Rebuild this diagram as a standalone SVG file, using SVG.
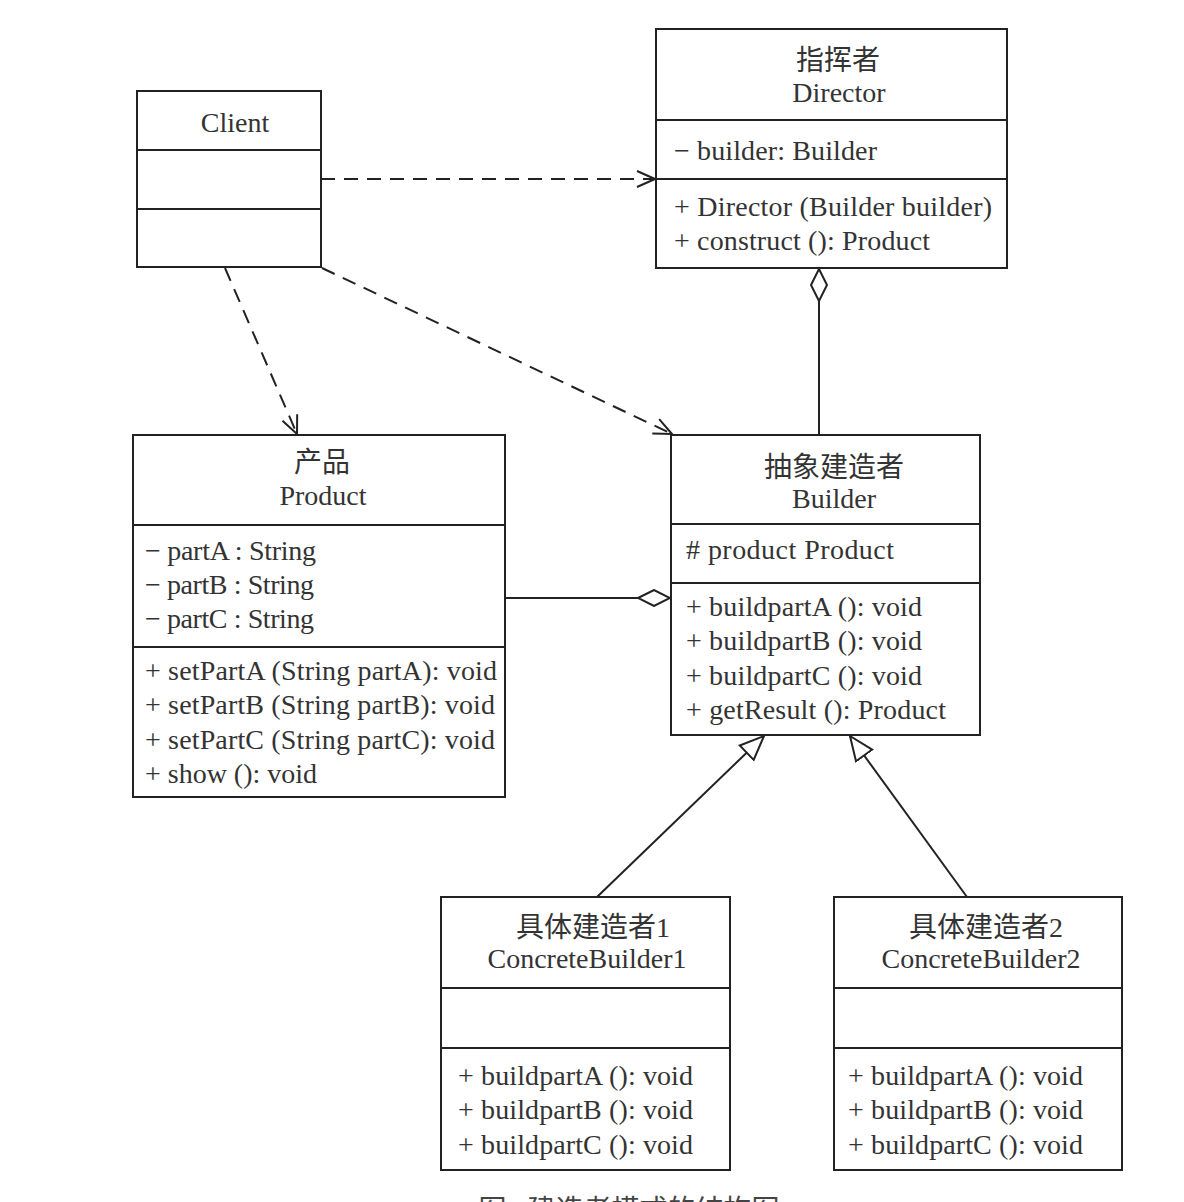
<svg xmlns="http://www.w3.org/2000/svg" width="1184" height="1202" viewBox="0 0 1184 1202">
<style>
.box{fill:#fff;stroke:#222;stroke-width:2}
.ln{stroke:#222;stroke-width:2;fill:none}
.dash{stroke:#222;stroke-width:2;fill:none;stroke-dasharray:14 9}
text{font-family:"Liberation Serif","Noto Sans CJK SC",serif;font-size:28px;fill:#333}
.c{text-anchor:middle}
.cap{font-size:28px;fill:#444}
</style>
<defs>
<marker id="open" viewBox="0 0 20 20" refX="19" refY="10" markerWidth="20" markerHeight="20" markerUnits="userSpaceOnUse" orient="auto">
<path d="M1,2 L19,10 L1,18" fill="none" stroke="#222" stroke-width="2"/>
</marker>
<marker id="tri" viewBox="0 0 26 26" refX="25" refY="13" markerWidth="26" markerHeight="26" markerUnits="userSpaceOnUse" orient="auto">
<path d="M1,3 L25,13 L1,23 Z" fill="#fff" stroke="#222" stroke-width="2"/>
</marker>
<marker id="dia" viewBox="0 0 34 18" refX="33" refY="9" markerWidth="34" markerHeight="18" markerUnits="userSpaceOnUse" orient="auto">
<path d="M1,9 L17,1 L33,9 L17,17 Z" fill="#fff" stroke="#222" stroke-width="2"/>
</marker>
</defs>

<g id="connectors">
<line class="dash" x1="321" y1="179" x2="655" y2="179" marker-end="url(#open)"/>
<line class="dash" x1="225" y1="268" x2="297" y2="434" marker-end="url(#open)"/>
<line class="dash" x1="322" y1="268" x2="672" y2="434" marker-end="url(#open)"/>
<line class="ln" x1="819" y1="435" x2="819" y2="269" marker-end="url(#dia)"/>
<line class="ln" x1="506" y1="598" x2="670" y2="598" marker-end="url(#dia)"/>
<line class="ln" x1="597" y1="897" x2="764" y2="736" marker-end="url(#tri)"/>
<line class="ln" x1="967" y1="897" x2="850" y2="736" marker-end="url(#tri)"/>
</g>

<g id="client">
<rect class="box" x="137" y="91" width="184" height="176"/>
<line class="ln" x1="137" y1="150" x2="321" y2="150"/>
<line class="ln" x1="137" y1="209" x2="321" y2="209"/>
<text class="c" x="235" y="132">Client</text>
</g>

<g id="director">
<rect class="box" x="656" y="29" width="351" height="239"/>
<line class="ln" x1="656" y1="120" x2="1007" y2="120"/>
<line class="ln" x1="656" y1="179" x2="1007" y2="179"/>
<text class="c" x="838" y="70">指挥者</text>
<text class="c" x="839" y="102">Director</text>
<text x="674" y="160" textLength="203" lengthAdjust="spacing">− builder: Builder</text>
<text x="674" y="216" textLength="318" lengthAdjust="spacing">+ Director (Builder builder)</text>
<text x="674" y="250" textLength="256" lengthAdjust="spacing">+ construct (): Product</text>
</g>

<g id="product">
<rect class="box" x="133" y="435" width="372" height="362"/>
<line class="ln" x1="133" y1="525" x2="505" y2="525"/>
<line class="ln" x1="133" y1="647" x2="505" y2="647"/>
<text class="c" x="322" y="472">产品</text>
<text class="c" x="323" y="505">Product</text>
<text x="145" y="560" textLength="171" lengthAdjust="spacing">− partA : String</text>
<text x="145" y="594" textLength="169" lengthAdjust="spacing">− partB : String</text>
<text x="145" y="628" textLength="169" lengthAdjust="spacing">− partC : String</text>
<text x="145" y="680" textLength="352" lengthAdjust="spacing">+ setPartA (String partA): void</text>
<text x="145" y="714" textLength="350" lengthAdjust="spacing">+ setPartB (String partB): void</text>
<text x="145" y="749" textLength="350" lengthAdjust="spacing">+ setPartC (String partC): void</text>
<text x="145" y="783" textLength="172" lengthAdjust="spacing">+ show (): void</text>
</g>

<g id="builder">
<rect class="box" x="671" y="435" width="309" height="300"/>
<line class="ln" x1="671" y1="524" x2="980" y2="524"/>
<line class="ln" x1="671" y1="583" x2="980" y2="583"/>
<text class="c" x="834" y="477">抽象建造者</text>
<text class="c" x="834" y="508">Builder</text>
<text x="686" y="559" textLength="208" lengthAdjust="spacing"># product Product</text>
<text x="686" y="616" textLength="236" lengthAdjust="spacing">+ buildpartA (): void</text>
<text x="686" y="650" textLength="236" lengthAdjust="spacing">+ buildpartB (): void</text>
<text x="686" y="685" textLength="236" lengthAdjust="spacing">+ buildpartC (): void</text>
<text x="686" y="719" textLength="260" lengthAdjust="spacing">+ getResult (): Product</text>
</g>

<g id="concretebuilder1">
<rect class="box" x="441" y="897" width="289" height="273"/>
<line class="ln" x1="441" y1="988" x2="730" y2="988"/>
<line class="ln" x1="441" y1="1048" x2="730" y2="1048"/>
<text class="c" x="593" y="937">具体建造者1</text>
<text class="c" x="587" y="968">ConcreteBuilder1</text>
<text x="458" y="1085" textLength="235" lengthAdjust="spacing">+ buildpartA (): void</text>
<text x="458" y="1119" textLength="235" lengthAdjust="spacing">+ buildpartB (): void</text>
<text x="458" y="1154" textLength="235" lengthAdjust="spacing">+ buildpartC (): void</text>
</g>

<g id="concretebuilder2">
<rect class="box" x="834" y="897" width="288" height="273"/>
<line class="ln" x1="834" y1="988" x2="1122" y2="988"/>
<line class="ln" x1="834" y1="1048" x2="1122" y2="1048"/>
<text class="c" x="986" y="937">具体建造者2</text>
<text class="c" x="981" y="968">ConcreteBuilder2</text>
<text x="848" y="1085" textLength="235" lengthAdjust="spacing">+ buildpartA (): void</text>
<text x="848" y="1119" textLength="235" lengthAdjust="spacing">+ buildpartB (): void</text>
<text x="848" y="1154" textLength="235" lengthAdjust="spacing">+ buildpartC (): void</text>
</g>

<text class="c cap" x="629" y="1220">图1 建造者模式的结构图</text>
</svg>
